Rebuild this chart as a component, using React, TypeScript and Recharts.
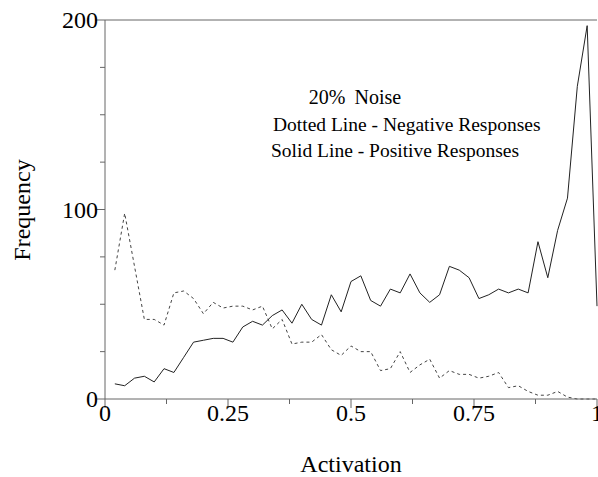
import React from 'react';
import { LineChart, Line, XAxis, YAxis, ReferenceLine } from 'recharts';

const activation = [
  0.02, 0.04, 0.06, 0.08, 0.1, 0.12, 0.14, 0.16, 0.18, 0.2,
  0.22, 0.24, 0.26, 0.28, 0.3, 0.32, 0.34, 0.36, 0.38, 0.4,
  0.42, 0.44, 0.46, 0.48, 0.5, 0.52, 0.54, 0.56, 0.58, 0.6,
  0.62, 0.64, 0.66, 0.68, 0.7, 0.72, 0.74, 0.76, 0.78, 0.8,
  0.82, 0.84, 0.86, 0.88, 0.9, 0.92, 0.94, 0.96, 0.98, 1.0,
];

// solid line
const positive = [
  8, 7, 11, 12, 9, 16, 14, 22, 30, 31,
  32, 32, 30, 38, 41, 39, 44, 47, 40, 50,
  42, 39, 55, 46, 62, 65, 52, 49, 58, 56,
  66, 56, 51, 55, 70, 68, 64, 53, 55, 58,
  56, 58, 56, 83, 64, 89, 106, 165, 197, 49,
];

// dotted line
const negative = [
  68, 98, 70, 42, 42, 39, 56, 57, 53, 45,
  51, 48, 49, 49, 47, 49, 37, 42, 29, 30,
  30, 34, 26, 23, 28, 25, 25, 15, 16, 25,
  14, 18, 21, 11, 15, 13, 13, 11, 12, 14,
  6, 7, 4, 2, 2, 4, 1, 0, 0, 0,
];

const xTicks = [0, 0.125, 0.25, 0.375, 0.5, 0.625, 0.75, 0.875, 1];
const xLabels: Record<string, string> = { '0': '0', '0.25': '0.25', '0.5': '0.5', '0.75': '0.75', '1': '1' };
const yTicks = [0, 25, 50, 75, 100, 125, 150, 175, 200];
const yLabels: Record<string, string> = { '0': '0', '100': '100', '200': '200' };

const noteLines = ['20% Noise', 'Dotted Line - Negative Responses', 'Solid Line - Positive Responses'];

const data = activation.map((a, i) => ({ a, pos: positive[i], neg: negative[i] }));

const serif = { fontFamily: "'Liberation Serif', 'DejaVu Serif', serif" };
const AXIS = '#666';

const XTick = ({ x, y, payload }: any) => {
  const label = xLabels[String(payload.value)];
  return (
    <g>
      <line x1={x} x2={x} y1={y} y2={y + (label ? 9 : 5)} stroke={AXIS} />
      {label && (
        <text x={x} y={y + 22} textAnchor="middle" style={serif} fontSize={24} fill="#000">
          {label}
        </text>
      )}
    </g>
  );
};

const YTick = ({ x, y, payload }: any) => {
  const label = yLabels[String(payload.value)];
  return (
    <g>
      <line x1={x - (label ? 10 : 5)} x2={x} y1={y} y2={y} stroke={AXIS} />
      {label && (
        <text x={x - 7} y={y} dy="0.35em" textAnchor="end" style={serif} fontSize={24} fill="#000">
          {label}
        </text>
      )}
    </g>
  );
};

export default function App() {
  return (
    <div style={{ position: 'absolute', left: 0, top: 0, width: 598, height: 477, background: '#fff' }}>
      <LineChart width={598} height={477} data={data} margin={{ top: 20, right: 1, bottom: 0, left: 0 }}>
        <XAxis
          dataKey="a"
          type="number"
          domain={[0, 1]}
          ticks={xTicks}
          interval={0}
          height={78}
          tickSize={0}
          tickMargin={0}
          tickLine={false}
          tick={<XTick />}
          stroke={AXIS}
        />
        <YAxis
          type="number"
          domain={[0, 200]}
          ticks={yTicks}
          interval={0}
          width={105}
          tickSize={0}
          tickMargin={0}
          tickLine={false}
          tick={<YTick />}
          stroke={AXIS}
        />
        <ReferenceLine y={200} stroke={AXIS} />
        <Line
          dataKey="neg"
          type="linear"
          stroke="#444"
          strokeWidth={1}
          strokeDasharray="3 3"
          dot={false}
          isAnimationActive={false}
        />
        <Line
          dataKey="pos"
          type="linear"
          stroke="#222"
          strokeWidth={1}
          dot={false}
          isAnimationActive={false}
        />
      </LineChart>
      <svg width={598} height={477} style={{ position: 'absolute', left: 0, top: 0, pointerEvents: 'none' }}>
        <text x={355} y={104} textAnchor="middle" wordSpacing={4} style={serif} fontSize={20} fill="#000">
          {noteLines[0]}
        </text>
        <text x={273} y={131} style={serif} fontSize={19.5} fill="#000">
          {noteLines[1]}
        </text>
        <text x={271} y={157} style={serif} fontSize={19.5} fill="#000">
          {noteLines[2]}
        </text>
        <text
          x={0}
          y={0}
          transform="translate(30 210) rotate(-90)"
          textAnchor="middle"
          style={serif}
          fontSize={24}
          fill="#000"
        >
          Frequency
        </text>
        <text x={351} y={472} textAnchor="middle" style={serif} fontSize={24} fill="#000">
          Activation
        </text>
      </svg>
    </div>
  );
}
